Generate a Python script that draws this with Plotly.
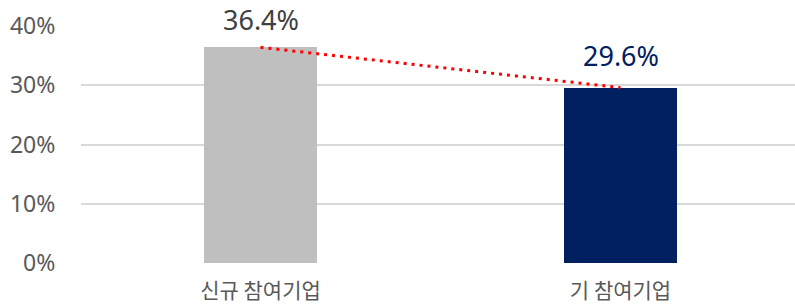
import plotly.graph_objects as go

categories = ["신규 참여기업", "기 참여기업"]
values = [0.364, 0.296]
bar_colors = ["#BFBFBF", "#002060"]
label_colors = ["#404040", "#002060"]
tick_vals = [0, 0.1, 0.2, 0.3, 0.4]
tick_text = ["0%", "10%", "20%", "30%", "40%"]

FONT = "Noto Sans, Noto Sans CJK KR"
LABEL_SHIFTS = [7, 12]

fig = go.Figure()
fig.add_trace(go.Bar(
    x=categories, y=values, marker=dict(color=bar_colors, line=dict(width=0)),
    width=0.314, showlegend=False, hoverinfo="skip",
))
fig.add_trace(go.Scatter(
    x=categories, y=values, mode="lines",
    line=dict(color="#FF0000", width=3, dash="3px,5px"),
    showlegend=False, hoverinfo="skip", cliponaxis=False,
))

for c, v, col, sh in zip(categories, values, label_colors, LABEL_SHIFTS):
    fig.add_annotation(
        x=c, y=v, text=f"{v*100:.1f}%", showarrow=False,
        yanchor="bottom", yshift=sh,
        font=dict(family=FONT, size=27, color=col),
    )

fig.update_layout(
    width=795, height=308,
    margin=dict(l=81, r=0, t=26, b=45),
    paper_bgcolor="white", plot_bgcolor="white",
    font=dict(family=FONT, size=20, color="#595959"),
    bargap=0,
    xaxis=dict(
        range=[-0.4986, 1.4847], showgrid=False, zeroline=False, showline=False,
        ticks="outside", ticklen=9, tickcolor="rgba(0,0,0,0)",
        tickfont=dict(family="Noto Sans CJK KR", size=21, color="#595959"),
    ),
    yaxis=dict(
        range=[0, 0.4], tickvals=tick_vals, ticktext=tick_text,
        showgrid=True, gridcolor="#D9D9D9", gridwidth=1.5,
        zeroline=False, showline=False,
        ticks="outside", ticklen=20, tickcolor="rgba(0,0,0,0)",
        tickfont=dict(family=FONT, size=23, color="#595959"),
    ),
)

fig.write_html("out.html", config={"displayModeBar": False},
               post_script="document.body.style.margin='0';")
